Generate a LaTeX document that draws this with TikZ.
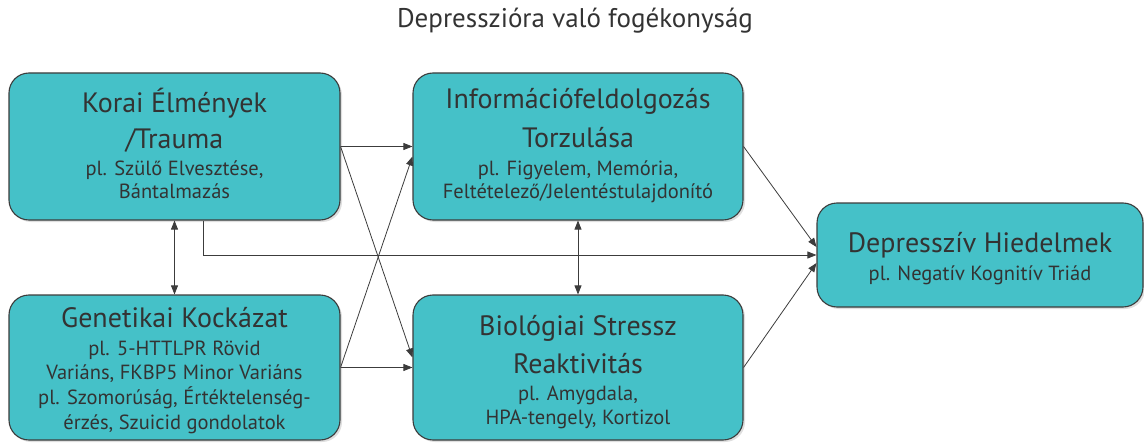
\documentclass[tikz,border=0pt]{standalone}
\usepackage{fontspec}
\setmainfont{PT Sans}
\usetikzlibrary{arrows.meta,calc,shadows}
\definecolor{boxfill}{HTML}{45C1C8}
\definecolor{boxline}{HTML}{3C3C3C}
\definecolor{txt}{HTML}{333333}
\begin{document}
\begin{tikzpicture}[x=1pt,y=-1pt,
  box/.style={draw=boxline,line width=1.1pt,fill=boxfill,rounded corners=20pt,
    inner sep=0pt,
    drop shadow={shadow xshift=2pt,shadow yshift=-2pt,opacity=0.25}},
  big/.style={anchor=base,inner sep=0pt,text=txt,font=\fontsize{28}{34}\selectfont},
  sml/.style={anchor=base,inner sep=0pt,text=txt,font=\fontsize{20.5}{25}\selectfont},
  conn/.style={draw=boxline,line width=0.8pt},
  arr/.style={conn,-{Triangle[length=9pt,width=7pt]}},
  darr/.style={conn,{Triangle[length=9pt,width=7pt]}-{Triangle[length=9pt,width=7pt]}}]
\useasboundingbox (0,0) rectangle (1144,444);
\node[anchor=base,inner sep=0pt,text=txt,font=\fontsize{27}{32}\selectfont] (title) at (575,28) {Depresszióra való fogékonyság};
% boxes
\node[box,minimum width=331pt,minimum height=147pt] (A) at (174.5,146.5) {};
\node[box,minimum width=331pt,minimum height=145pt] (B) at (174.5,367.5) {};
\node[box,minimum width=330pt,minimum height=147pt] (C) at (578,146.5) {};
\node[box,minimum width=330pt,minimum height=145pt] (D) at (578,367.5) {};
\node[box,minimum width=326pt,minimum height=104pt] (E) at (980,255) {};
% texts
\node[big] (A1) at (174.5,112) {Korai Élmények};
\node[big] (A2) at (174.5,148) {/Trauma};
\node[sml] (A3) at (174.5,175) {pl. Szülő Elvesztése,};
\node[sml] (A4) at (174.5,198) {Bántalmazás};
\node[big] (B1) at (174.5,327) {Genetikai Kockázat};
\node[sml] (B2) at (174.5,355) {pl. 5-HTTLPR Rövid};
\node[sml] (B3) at (174.5,379) {Variáns, FKBP5 Minor Variáns};
\node[sml] (B4) at (174.5,404) {pl. Szomorúság, Értéktelenség-};
\node[sml] (B5) at (174.5,429) {érzés, Szuicid gondolatok};
\node[big] (C1) at (578,108) {Információfeldolgozás};
\node[big] (C2) at (578,147) {Torzulása};
\node[sml] (C3) at (578,175) {pl. Figyelem, Memória,};
\node[sml] (C4) at (578,198) {Feltételező/Jelentéstulajdonító};
\node[big] (D1) at (578,335) {Biológiai Stressz};
\node[big] (D2) at (578,373) {Reaktivitás};
\node[sml] (D3) at (578,400) {pl. Amygdala,};
\node[sml] (D4) at (578,424) {HPA-tengely, Kortizol};
\node[big] (E1) at (980,252) {Depresszív Hiedelmek};
\node[sml] (E2) at (980,280) {pl. Negatív Kognitív Triád};
% connectors
\coordinate (Ab) at ($(A.south)+(29,0)$);
\draw[arr] (A.east) -- (C.west);
\draw[arr] (A.east) -- ($(D.west)+(0,-10)$);
\draw[arr] (B.east) -- (D.west);
\draw[arr] (B.east) -- ($(C.west)+(0,10)$);
\draw[darr] (A.south) -- (B.north);
\draw[darr] (C.south) -- (D.north);
\draw[arr] (Ab) |- (E.west);
\draw[arr] (C.east) -- ($(E.west)+(0,-8)$);
\draw[arr] (D.east) -- ($(E.west)+(0,8)$);
\end{tikzpicture}
\end{document}
